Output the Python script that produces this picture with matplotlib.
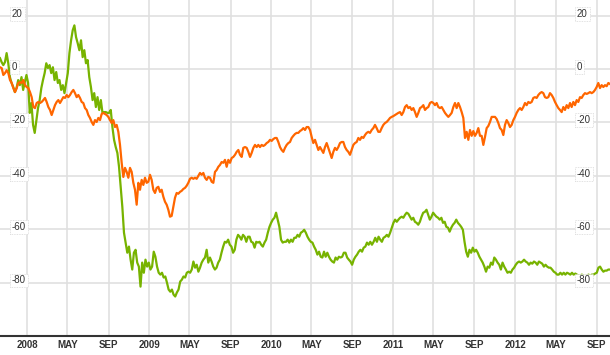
import matplotlib
matplotlib.use('Agg')
import matplotlib.pyplot as plt
import matplotlib.transforms as mtransforms
import pandas as pd

start_date = '2007-10-12'
end_date = '2012-10-11'

green_values = [
    4.1, 2.6, 1.5, 2.6, 6.0, 2.2, -3.0, -5.2, -6.7, -8.6, -7.1, -4.1, -6.0, -3.0, -7.8, -4.9,
    -2.2, -5.2, -16.4, -12.7, -20.9, -23.9, -19.1, -14.6, -11.6, -7.1, -4.1, -1.5, 2.2, 0.4,
    1.5, -1.5, 0.7, -4.1, -1.1, -5.2, -4.1, -7.8, -6.0, -9.0, -5.2, -1.5, 6.0, 10.8, 14.6,
    16.4, 12.0, 9.7, 7.1, 10.8, 4.5, 7.1, 2.2, 3.4, -3.0, -6.7, -11.6, -9.0, -14.2, -10.5,
    -15.3, -11.6, -16.4,
    -16.1, -16.1, -16.4, -16.4, -15.3, -21.7, -26.5, -29.2, -31.4, -36.6, -44.1, -51.6, -61.3,
    -65.0, -68.8, -66.5, -71.4, -75.1, -68.8, -67.7, -72.5, -74.0, -81.5, -72.5, -76.3, -71.4,
    -74.0, -72.5, -75.1, -74.0, -68.4, -70.3, -74.0, -76.3, -77.0, -76.3, -78.1, -77.7, -80.0,
    -82.6, -83.4, -82.6, -84.5, -85.2, -83.7, -82.6, -79.6, -78.9, -77.7, -78.1, -76.3, -75.9,
    -76.3, -75.1, -72.1, -74.4, -73.3, -75.9, -74.4, -72.5, -71.4,
    -70.6, -67.7, -72.5, -70.6, -72.1, -74.0, -75.1, -74.4, -72.5, -71.4, -68.8, -66.5, -64.7,
    -65.0, -63.9, -65.8, -66.5, -68.8, -67.7, -63.9, -62.1, -62.8, -63.9, -62.1, -62.8, -64.7,
    -62.8, -62.8, -64.7, -65.0, -66.9, -64.7, -65.0, -64.7, -65.8, -66.5, -65.0, -63.9, -61.3,
    -59.1, -57.6, -56.4, -55.7, -53.8, -56.4, -59.1, -63.9, -65.0, -64.7, -64.7, -63.9, -65.0,
    -63.9, -64.7, -63.2, -63.2, -62.1, -62.8, -61.3, -60.9,
    -60.2, -61.3, -62.8, -63.9, -64.7, -65.0, -66.5, -67.7, -69.5, -68.4, -70.3, -70.6, -68.4,
    -70.3, -68.8, -70.3, -71.4, -72.1, -72.5, -70.6, -71.4, -70.3, -70.6, -70.3, -68.8, -68.8,
    -70.6, -71.4, -72.1, -73.3, -71.4, -70.3, -69.5, -68.4, -67.7, -68.4, -66.9, -66.5, -65.0,
    -65.8, -64.7, -65.8, -64.7, -63.2, -64.7, -62.8, -63.9, -64.7, -63.2, -62.8, -62.1, -62.8,
    -61.3, -59.4, -57.6, -56.4, -57.2, -56.4, -55.7, -55.3,
    -55.7, -54.6, -53.8, -54.2, -55.3, -56.4, -55.7, -57.2, -57.6, -58.3, -57.2, -55.3, -53.8,
    -53.5, -52.7, -54.6, -56.4, -55.3, -53.8, -54.6, -55.3, -55.7, -56.4, -55.7, -57.6, -57.2,
    -59.1, -59.4, -60.9, -59.4, -58.3, -57.6, -56.4, -57.6, -58.3, -59.1, -60.2, -64.7, -68.4,
    -70.3, -67.7, -68.8, -66.9, -68.4, -67.7, -68.8, -70.3, -71.4, -72.5, -74.0, -75.9, -74.0,
    -74.4, -72.5, -73.3, -70.6, -71.4, -72.5, -73.3, -75.1,
    -72.5, -74.0, -75.1, -76.3, -75.9, -76.3, -75.1, -74.4, -73.3, -72.5, -72.1, -72.5, -72.1,
    -71.4, -72.1, -72.5, -73.3, -72.5, -72.9, -72.1, -72.5, -73.3, -72.1, -72.5, -72.9, -74.0,
    -73.3, -74.0, -74.4, -74.4, -75.1, -75.9, -76.3, -77.0, -77.0, -76.3, -77.0, -76.3, -77.0,
    -76.3, -76.6, -77.0, -76.3, -77.0, -76.6, -77.0, -77.4, -77.4, -77.0, -77.4, -77.7, -77.4,
    -77.0, -77.4, -77.0, -77.0, -76.6, -76.3, -74.4, -74.0, -75.1, -75.9, -75.5, -75.5, -75.1,
    -75.1,
]

orange_values = [
    0.7, 0.4, -2.2, -1.5, -0.4, -1.5, -4.1, -5.2, -7.1, -8.6, -7.1, -5.2, -4.9, -5.2, -4.1,
    -6.0, -6.7, -7.1, -8.6, -10.5, -14.2, -14.6, -12.7, -12.3, -12.7, -12.3, -11.6, -10.8,
    -12.3, -14.2, -15.3, -17.2, -15.3, -13.5, -12.3, -11.6, -12.7, -11.6, -10.5, -10.8, -9.7,
    -10.5, -9.7, -8.6, -7.8, -9.0, -10.5, -9.7, -10.8, -12.3, -12.7, -14.6, -15.3, -17.2,
    -18.3, -19.8, -20.9, -19.1, -19.8, -18.3, -19.1,
    -16.8, -16.4, -16.8, -17.2, -17.9, -19.1, -20.2, -19.1, -21.7, -20.9, -23.5, -28.4, -35.1,
    -40.4, -37.0, -38.5, -40.7, -37.0, -38.5, -42.6, -45.2, -50.8, -42.6, -45.2, -41.5, -43.4,
    -40.7, -42.6, -42.2, -39.6, -41.5, -45.2, -46.4, -44.5, -44.1, -46.0, -45.2, -47.8, -49.7,
    -50.8, -52.7, -55.3, -55.0, -51.6, -48.2, -46.4, -46.7, -46.0, -45.6, -44.9, -44.5, -43.7,
    -42.6, -41.1, -40.7, -41.1, -40.7, -41.1, -40.0, -38.9,
    -39.6, -38.9, -40.7, -41.5, -40.4, -40.7, -42.2, -42.6, -38.5, -37.8, -36.6, -35.9, -34.8,
    -35.1, -34.0, -36.6, -34.0, -35.1, -33.3, -32.9, -32.1, -31.0, -30.3, -32.1, -32.9, -29.5,
    -29.2, -29.5, -31.0, -32.9, -31.4, -29.5, -28.4, -29.2, -28.4, -29.2, -28.4, -28.8, -28.4,
    -27.7, -27.3, -26.5, -26.9, -26.2, -25.8, -25.8, -27.3, -29.2, -30.3, -31.0, -29.5, -28.4,
    -27.7, -27.3, -25.8, -25.0, -24.3, -23.9, -23.9, -23.2,
    -22.8, -22.1, -22.8, -21.7, -21.7, -22.8, -25.4, -27.7, -26.5, -28.4, -30.3, -29.2, -30.3,
    -31.4, -29.2, -27.7, -29.5, -31.4, -33.3, -31.0, -29.5, -30.3, -29.2, -27.7, -27.3, -27.3,
    -29.2, -30.3, -31.0, -32.1, -30.3, -28.4, -27.7, -27.3, -25.8, -26.5, -25.4, -25.8, -24.7,
    -23.9, -23.5, -23.9, -22.8, -22.1, -20.9, -22.1, -23.5, -23.5, -22.1, -20.9, -20.2, -19.8,
    -19.1, -18.3, -17.9, -17.6, -17.2, -16.8, -16.4, -16.1,
    -17.2, -16.1, -14.2, -13.5, -14.6, -14.2, -15.3, -14.6, -16.1, -17.9, -16.4, -14.6, -14.2,
    -13.5, -15.3, -14.6, -14.2, -12.7, -12.3, -12.7, -13.5, -12.7, -14.2, -14.6, -14.2, -15.3,
    -16.4, -17.2, -17.9, -17.2, -16.4, -14.2, -12.7, -14.6, -12.7, -14.2, -16.1, -18.3, -25.8,
    -23.5, -26.5, -22.8, -25.0, -23.2, -25.0, -23.9, -22.1, -25.0, -25.0, -28.4, -25.4, -22.1,
    -21.3, -19.8, -17.9, -17.9, -17.9, -18.7, -20.2, -22.1,
    -22.8, -24.7, -20.9, -19.1, -20.2, -21.7, -20.9, -19.1, -17.9, -16.4, -15.3, -14.6, -15.3,
    -14.2, -12.7, -13.5, -12.3, -12.7, -12.3, -10.8, -10.5, -10.8, -9.7, -9.0, -8.6, -9.0,
    -10.5, -10.8, -10.5, -9.0, -9.7, -10.8, -12.3, -13.5, -14.6, -15.3, -16.1, -14.2, -15.3,
    -13.5, -14.6, -12.7, -14.2, -12.3, -13.5, -11.6, -12.3, -10.5, -10.8, -9.7, -9.0, -9.3,
    -9.0, -8.6, -9.0, -8.6, -7.8, -6.7, -5.2, -7.1, -6.0, -6.7, -6.0, -6.4, -5.2, -5.6,
]

y_ticks = [20, 0, -20, -40, -60, -80]
y_tick_labels = ['20', '0', '-20', '-40', '-60', '-80']
x_tick_dates = ['2008-01-01', '2008-05-01', '2008-09-01', '2009-01-01', '2009-05-01',
                '2009-09-01', '2010-01-01', '2010-05-01', '2010-09-01', '2011-01-01',
                '2011-05-01', '2011-09-01', '2012-01-01', '2012-05-01', '2012-09-01']
x_tick_labels = ['2008', 'MAY', 'SEP', '2009', 'MAY', 'SEP', '2010', 'MAY', 'SEP',
                 '2011', 'MAY', 'SEP', '2012', 'MAY', 'SEP']

green_dates = pd.date_range(start_date, end_date, periods=len(green_values))
orange_dates = pd.date_range(start_date, end_date, periods=len(orange_values))

fig = plt.figure(figsize=(6.1, 3.55), dpi=100)
ax = fig.add_axes([0, 19 / 355, 1, 336 / 355])

ax.plot(green_dates, green_values, color='#77b300', lw=1.6, zorder=3)
ax.plot(orange_dates, orange_values, color='#ff6600', lw=1.6, zorder=3)

ax.set_xlim(pd.Timestamp(start_date), pd.Timestamp(end_date))
ax.set_ylim(-100, 25.9)

ax.set_yticks(y_ticks)
ax.set_yticklabels([])
ax.set_xticks(pd.to_datetime(x_tick_dates))
ax.set_xticklabels(x_tick_labels, fontsize=7, fontweight='bold', color='#333333',
                   family='Liberation Sans')
ax.tick_params(axis='both', length=0)
ax.tick_params(axis='x', pad=3)
ax.grid(True, color='#e0e0e0', lw=1.2, zorder=0)

for side in ['left', 'right', 'top']:
    ax.spines[side].set_visible(False)
ax.spines['bottom'].set_color('#333333')
ax.spines['bottom'].set_linewidth(1.5)

trans = mtransforms.blended_transform_factory(ax.transAxes, ax.transData)
for val, lab in zip(y_ticks, y_tick_labels):
    for xpos in (12 / 610, 577 / 610):
        ax.text(xpos, val + 0.8, lab, transform=trans, ha='left', va='center',
                fontsize=7, color='#333333', family='Liberation Sans', zorder=5,
                bbox=dict(boxstyle='square,pad=0.2', fc='white', ec='#d8d8d8', lw=0.6,
                          ls=(0, (1, 1))))

fig.savefig('out.png', dpi=100)
